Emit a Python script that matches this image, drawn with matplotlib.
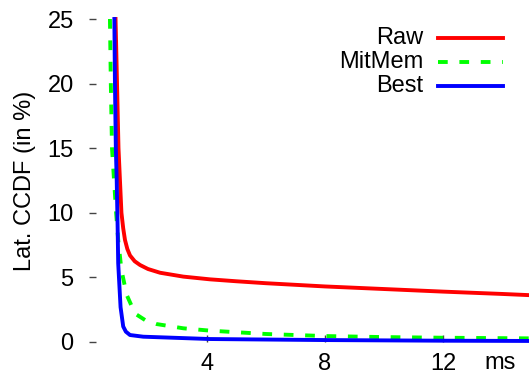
import numpy as np
import matplotlib
matplotlib.use('Agg')
import matplotlib.pyplot as plt

plt.rcParams['font.family'] = ['Liberation Sans', 'DejaVu Sans']

# Datos (x en ms, y en %)
raw_x = [0.9, 0.95, 1.0, 1.05, 1.1, 1.16, 1.22, 1.3, 1.39, 1.55, 1.73, 2.0, 2.41, 3.2, 4.1, 5, 6, 8, 10, 12, 14, 15]
raw_y = [25, 20, 15, 12.5, 10, 8.8, 7.9, 7.2, 6.7, 6.25, 5.96, 5.65, 5.36, 5.06, 4.85, 4.7, 4.55, 4.3, 4.1, 3.9, 3.72, 3.62]

mit_x = [0.71, 0.74, 0.78, 0.85, 0.92, 0.99, 1.1, 1.28, 1.56, 1.9, 2.29, 3.2, 4.1, 6, 8, 10, 12, 15]
mit_y = [25, 20, 15, 12.5, 10, 7.9, 5.57, 3.64, 2.2, 1.7, 1.39, 1.06, 0.88, 0.62, 0.46, 0.38, 0.33, 0.28]

best_x = [0.86, 0.88, 0.91, 0.94, 0.97, 0.99, 1.07, 1.16, 1.25, 1.39, 1.84, 4.1, 8, 12, 15]
best_y = [25, 20, 15, 12.5, 9, 6.1, 2.7, 1.2, 0.8, 0.54, 0.41, 0.23, 0.15, 0.1, 0.08]

labels = ['Raw', 'MitMem', 'Best']
colors = ['#ff0000', '#00ff00', '#0000ff']
xticks = [4, 8, 12]
yticks = [0, 5, 10, 15, 20, 25]

fig = plt.figure(figsize=(5.29, 3.75), dpi=100)
ax = fig.add_axes([89/529, 1 - 342/375, 440/529, 323/375])

series = [(raw_x, raw_y), (mit_x, mit_y), (best_x, best_y)]
styles = ['-', '--', '-']
for (x, y), lab, c, ls in zip(series, labels, colors, styles):
    line, = ax.plot(x, y, color=c, lw=2.8, ls=ls, label=lab, clip_on=False)
    if ls == '--':
        line.set_dashes((2.5, 3))

ax.set_xlim(0, 14.92)
ax.set_ylim(0, 25)
ax.set_xticks(xticks)
ax.set_yticks(yticks)
for s in ax.spines.values():
    s.set_visible(False)
ax.tick_params(direction='in', length=5, width=1, color='#444444',
               labelsize=17, pad=8)
ax.tick_params(axis='y', pad=11)
ax.set_ylabel('Lat. CCDF (in %)', fontsize=17, labelpad=8)
ax.text(0.934, -0.065, 'ms', transform=ax.transAxes, ha='center', va='center',
        fontsize=17)

# Leyenda alineada a la derecha, como en gnuplot
ly = [0.941, 0.867, 0.793]
for i in range(len(labels)):
    ax.text(0.759, ly[i], labels[i], transform=ax.transAxes, ha='right',
            va='center', fontsize=17)
    h, = ax.plot([0.793, 0.941], [ly[i], ly[i]], transform=ax.transAxes,
                 color=colors[i], lw=2.8, ls=styles[i], clip_on=False)
    if styles[i] == '--':
        h.set_dashes((2.5, 3))

fig.savefig('out.png', dpi=100)
